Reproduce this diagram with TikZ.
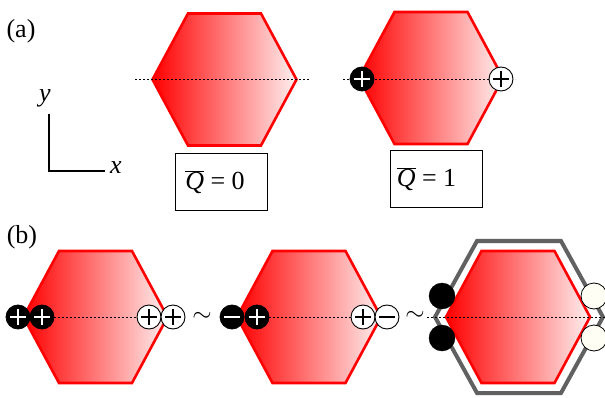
\documentclass[tikz,border=0pt]{standalone}
\usepackage{fontspec}
\setmainfont{Liberation Serif}
\begin{document}
\begin{tikzpicture}[x=1pt,y=-1pt,
  hexfill/.style={left color=red, right color=red!6, draw=red, line width=2.6pt, line join=miter},
  shell/.style={draw=black!62, line width=4pt, line join=miter},
  axis/.style={dashed, dash pattern=on 2pt off 2pt, line width=0.8pt},
  lbl/.style={font=\fontsize{26}{30}\selectfont, inner sep=0pt},
  qbox/.style={draw, line width=1pt, minimum width=92pt, minimum height=57pt, inner sep=0pt, font=\fontsize{26}{30}\selectfont},
  bplus/.style={circle, fill=black, draw=black, line width=0.8pt, minimum size=24pt, inner sep=0pt,
    path picture={\draw[white, line width=2.4pt] ([xshift=-8pt]path picture bounding box.center) -- ([xshift=8pt]path picture bounding box.center)
      ([yshift=-8pt]path picture bounding box.center) -- ([yshift=8pt]path picture bounding box.center);}},
  bminus/.style={circle, fill=black, draw=black, line width=0.8pt, minimum size=24pt, inner sep=0pt,
    path picture={\draw[white, line width=2.4pt] ([xshift=-8pt]path picture bounding box.center) -- ([xshift=8pt]path picture bounding box.center);}},
  wplus/.style={circle, fill=white, draw=black, line width=0.9pt, minimum size=24pt, inner sep=0pt,
    path picture={\draw[black, line width=2.2pt] ([xshift=-8pt]path picture bounding box.center) -- ([xshift=8pt]path picture bounding box.center)
      ([yshift=-8pt]path picture bounding box.center) -- ([yshift=8pt]path picture bounding box.center);}},
  wminus/.style={circle, fill=white, draw=black, line width=0.9pt, minimum size=24pt, inner sep=0pt,
    path picture={\draw[black, line width=2.2pt] ([xshift=-8pt]path picture bounding box.center) -- ([xshift=8pt]path picture bounding box.center);}},
  bdot/.style={circle, fill=black, draw=black, minimum size=26pt, inner sep=0pt},
  wdot/.style={circle, fill=yellow!4, draw=black, line width=0.8pt, minimum size=26pt, inner sep=0pt}
]
\useasboundingbox (0,0) rectangle (605,398);
% hexagon macro: center x, center y
\newcommand{\hexa}[3][]{%
  \path[hexfill,#1] (#2-72,#3) -- (#2-36.5,#3-66) -- (#2+36.5,#3-66) -- (#2+72,#3) -- (#2+36.5,#3+66) -- (#2-36.5,#3+66) -- cycle;}

% ----- (a)
\node[lbl] (la) at (21,31) {(a)};
\hexa{224.5}{79.5}
\draw[axis] (135,79.5) -- (309,79.5);
\node[qbox] (q0) at (221,182.5) {\(\overline{\mbox{\itshape Q}}\) = 0\hspace*{12pt}};

\hexa{431}{78}
\draw[axis] (343,79) -- (515,79);
\node[bplus] (a2l) at (362,79) {};
\node[wplus] (a2r) at (501,79) {};
\node[qbox] (q1) at (436.5,179.5) {\(\overline{\mbox{\itshape Q}}\) = 1\hspace*{20pt}};

% axes
\coordinate (o) at (49,171);
\coordinate (ye) at (49,114);
\coordinate (xe) at (105,171);
\draw[line width=1.1pt] (ye) -- (o) -- (xe);
\node[lbl, font=\fontsize{26}{30}\selectfont\itshape] (ly) at (45,98) {y};
\node[lbl, font=\fontsize{26}{30}\selectfont\itshape] (lx) at (116,168) {x};

% ----- (b)
\node[lbl] (lb) at (22,237) {(b)};
\hexa{95.5}{317}
\draw[axis] (30,317) -- (161,317);
\node[bplus] (b1a) at (18,317) {};
\node[bplus] (b1b) at (42,317) {};
\node[wplus] (b1c) at (149,317) {};
\node[wplus] (b1d) at (173,317) {};
\node[lbl] (t1) at (202,317) {$\sim$};

\hexa{309}{317}
\draw[axis] (257,317) -- (363,317);
\node[bminus] (b2a) at (232,317) {};
\node[bplus] (b2b) at (257,317) {};
\node[wplus] (b2c) at (363,317) {};
\node[wminus] (b2d) at (387,317) {};
\node[lbl] (t2) at (415,316) {$\sim$};

\draw[shell] (435,317) -- (477,241) -- (561,241) -- (603,317) -- (561,393) -- (477,393) -- cycle;
\hexa{518}{317}
\draw[axis] (427,317) -- (605,317);
\node[bdot] (b3a) at (442,296) {};
\node[bdot] (b3b) at (442,338) {};
\node[wdot] (b3c) at (594,296) {};
\node[wdot] (b3d) at (594,338) {};
\end{tikzpicture}
\end{document}
